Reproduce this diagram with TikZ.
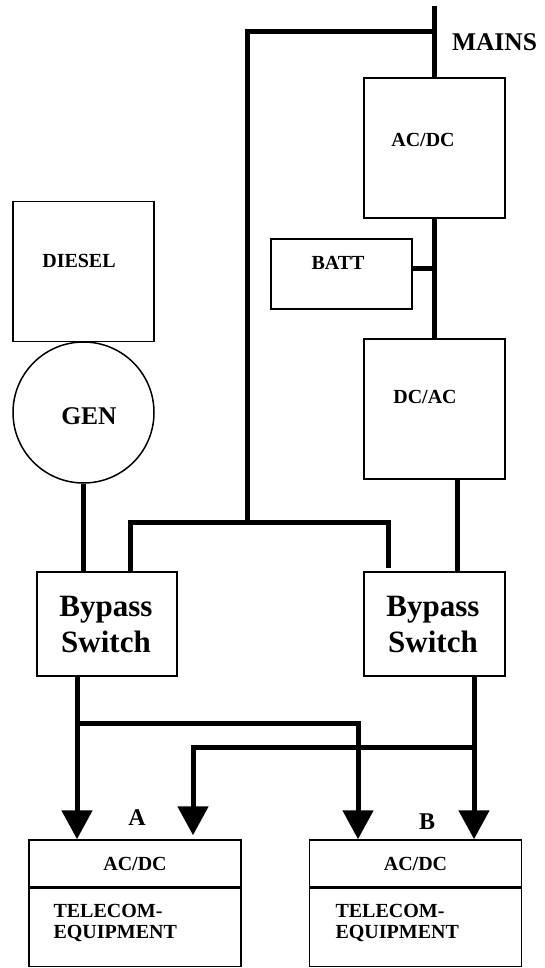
\documentclass[tikz,border=0pt]{standalone}
\usepackage{fontspec}
\setmainfont{Liberation Serif}
\usepackage{tikz}
\usetikzlibrary{arrows.meta, positioning}

\begin{document}
\begin{tikzpicture}[
  x=1pt, y=-1pt,
  box/.style={draw, line width=1.5pt, inner sep=0pt},
  unit/.style={box, minimum width=141, minimum height=140},
  lbl/.style={font=\bfseries\fontsize{20}{21}\selectfont},
  big/.style={font=\bfseries\fontsize{25.5}{28}\selectfont},
  bus/.style={line width=5pt, line join=miter},
  feed/.style={bus, -{Triangle[length=29pt, width=30pt]}}
]
\useasboundingbox (0,0) rectangle (545,968);

\node[unit] (acdc) at (434.5,148) {};
\node[lbl] (acdc-t) at (423,140) {AC/DC};
\node[box, minimum width=141, minimum height=70] (batt) at (341.5,274) {};
\node[lbl] (batt-t) at (338,263) {BATT};
\node[unit] (dcac) at (434.5,409) {};
\node[lbl] (dcac-t) at (425,397) {DC/AC};
\node[unit] (diesel) at (83.5,271.5) {};
\node[lbl] (diesel-t) at (79,261) {DIESEL};
\node[box, circle, minimum size=141] (gen) at (83.5,412.5) {};
\node[big] (gen-t) at (89,416) {GEN};
\node[big] (mains) at (494.5,42) {MAINS};

\node[box, minimum width=140, minimum height=104] (bpl) at (107,624) {};
\node[box, minimum width=141, minimum height=104] (bpr) at (434.5,624) {};
\node[align=center, font=\bfseries\fontsize{31}{36}\selectfont] (bpl-t) at (106,624) {Bypass\\Switch};
\node[align=center, font=\bfseries\fontsize{31}{36}\selectfont] (bpr-t) at (433,624) {Bypass\\Switch};

\node[box, lbl, minimum width=212, minimum height=47] (ra) at (135,863.5) {AC/DC};
\node[box, minimum width=212, minimum height=78, below=0pt of ra] (ta) {};
\node[lbl, anchor=west, align=left] (ta-t) at (50,923) {TELECOM-\\EQUIPMENT};
\node[box, lbl, minimum width=212, minimum height=47] (rb) at (415.5,863.5) {AC/DC};
\node[box, minimum width=212, minimum height=78, below=0pt of rb] (tb) {};
\node[lbl, anchor=west, align=left] (tb-t) at (332,923) {TELECOM-\\EQUIPMENT};
\node[font=\bfseries\fontsize{24}{26}\selectfont] (a) at (137,818) {A};
\node[font=\bfseries\fontsize{24}{26}\selectfont] (b) at (427,822) {B};

\coordinate (mtop) at (434.5,6);
\coordinate (mj) at (434.5,32);
\coordinate (mk) at (247,32);
\coordinate (bj) at (247,522);
\coordinate (bl) at (130,522);
\coordinate (br) at (388,522);
\coordinate (brend) at (388,568);
\coordinate (bt) at (434.5,268);
\coordinate (ja) at (77,723);
\coordinate (jb) at (474,747);

\draw[bus] (mtop) -- (acdc.north);
\draw[bus] (mj) -- (mk) -- (bj);
\draw[bus] (acdc.south) -- (dcac.north);
\draw[bus] (batt.east |- bt) -- (bt);
\draw[bus] (bl |- bpl.north) -- (bl) -- (br) -- (brend);
\draw[bus] (gen.south) -- (gen.south |- bpl.north);
\draw[bus] ([xshift=22.5]dcac.south) -- ([xshift=22.5]bpr.north);

\draw[feed] ([xshift=-30]bpl.south) -- ([xshift=-30]bpl.south |- ra.north);
\draw[feed] ([xshift=39.5]bpr.south) -- ([xshift=39.5]bpr.south |- rb.north);
\draw[feed] (ja) -| ([xshift=-57.5]rb.north);
\draw[feed] (jb) -| ([xshift=58,yshift=4]ra.north);
\end{tikzpicture}
\end{document}
